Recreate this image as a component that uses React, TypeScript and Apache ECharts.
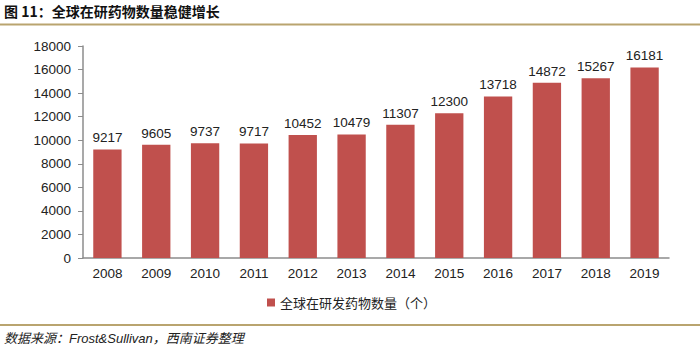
import React, { useEffect, useRef } from "react";
import * as echarts from "echarts";

const years = ["2008", "2009", "2010", "2011", "2012", "2013", "2014", "2015", "2016", "2017", "2018", "2019"];
const drugCounts = [9217, 9605, 9737, 9717, 10452, 10479, 11307, 12300, 13718, 14872, 15267, 16181];
const seriesName = "全球在研发药物数量（个）";
const titleText = "图 11：全球在研药物数量稳健增长";
const sourceText = "数据来源：Frost&Sullivan，西南证券整理";

export default function App() {
  const ref = useRef<HTMLDivElement>(null);
  useEffect(() => {
    document.body.style.margin = "0";
    if (!ref.current) return;
    const chart = echarts.init(ref.current, null, { renderer: "svg" });
    const latin = "'Liberation Sans', Arial, 'Noto Sans CJK SC', sans-serif";
    const cjk = "'Noto Sans CJK SC', 'Liberation Sans', sans-serif";
    chart.setOption({
      animation: false,
      backgroundColor: "#ffffff",
      grid: { left: 83, right: 31, top: 46, bottom: 94, containLabel: false },
      legend: {
        data: [seriesName],
        left: 262,
        top: 291,
        itemWidth: 8,
        itemHeight: 8,
        itemGap: 5,
        icon: "rect",
        textStyle: { fontSize: 13, color: "#222", fontFamily: cjk },
      },
      xAxis: {
        type: "category",
        data: years,
        axisLine: { lineStyle: { color: "#8c8c8c", width: 1.5 } },
        axisTick: { show: false },
        axisLabel: { fontSize: 13.5, color: "#222", fontFamily: latin, margin: 9 },
      },
      yAxis: {
        type: "value",
        min: 0,
        max: 18000,
        interval: 2000,
        axisLine: { show: true, lineStyle: { color: "#8c8c8c", width: 1.5 } },
        axisTick: { show: true, inside: false, length: 5, lineStyle: { color: "#8c8c8c" } },
        splitLine: { show: false },
        axisLabel: {
          fontSize: 13.5,
          color: "#222",
          fontFamily: latin,
          margin: 12,
          formatter: (v: number) => String(v),
        },
      },
      series: [
        {
          name: seriesName,
          type: "bar",
          data: drugCounts,
          barWidth: "58%",
          itemStyle: { color: "#C0504D" },
          label: {
            show: true,
            position: "top",
            distance: 5,
            fontSize: 13.5,
            color: "#222",
            fontFamily: latin,
          },
        },
      ],
      graphic: [
        {
          type: "text",
          left: 4,
          top: 4,
          style: { text: titleText, fontSize: 14, fontWeight: "bold", fill: "#111", fontFamily: cjk },
        },
        {
          type: "rect",
          shape: { x: 0, y: 23.5, width: 700, height: 2 },
          style: { fill: "#B9A46F" },
        },
        {
          type: "rect",
          shape: { x: 0, y: 324, width: 700, height: 2 },
          style: { fill: "#B9A46F" },
        },
        {
          type: "text",
          left: 4,
          top: 332,
          style: { text: sourceText, fontSize: 13, fontStyle: "italic", fill: "#222", fontFamily: latin },
        },
      ],
    });
    return () => chart.dispose();
  }, []);
  return <div ref={ref} style={{ width: 700, height: 352 }} />;
}
